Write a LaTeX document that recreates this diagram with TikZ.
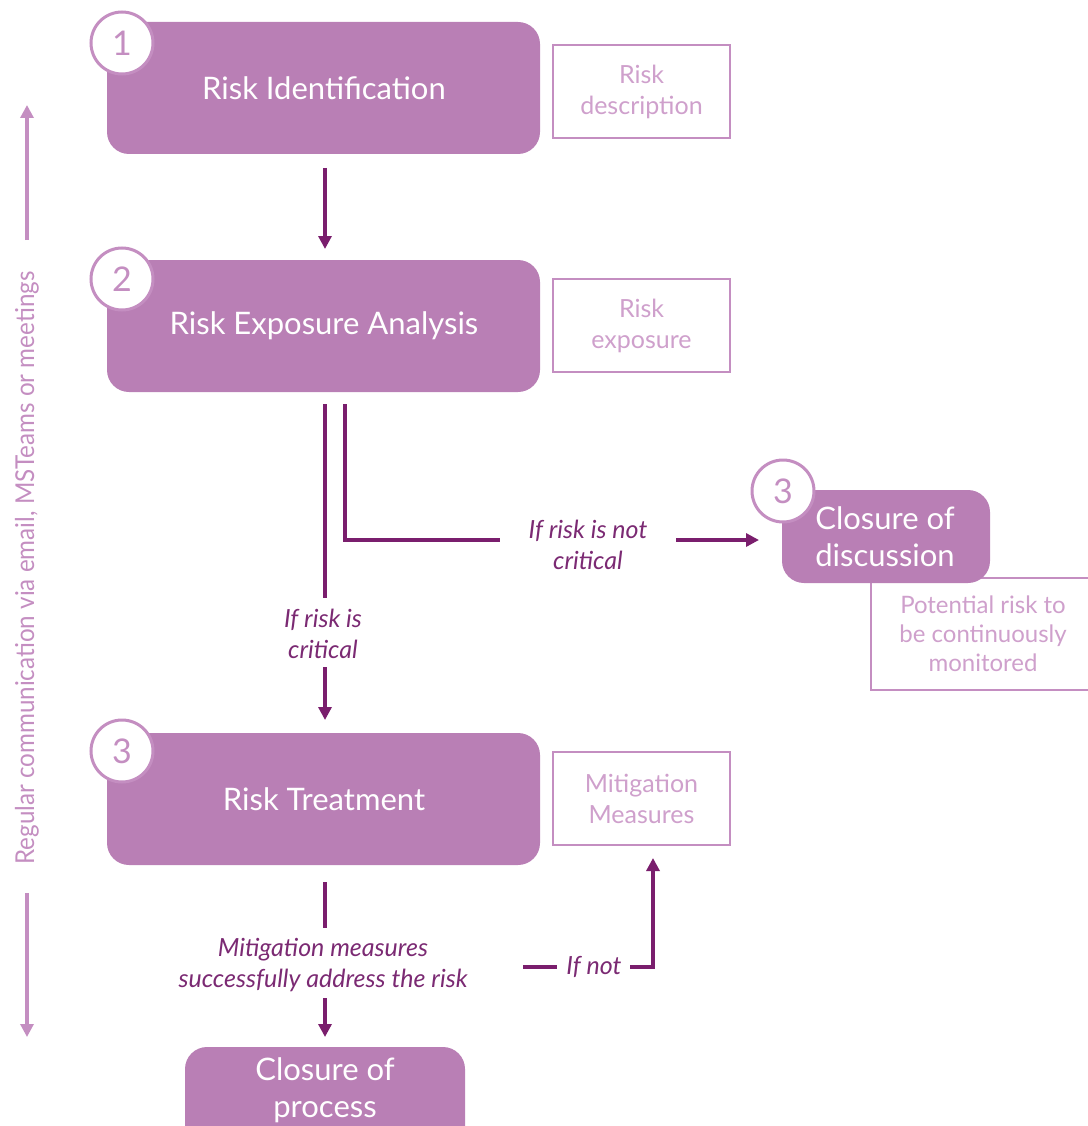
\documentclass[tikz,border=0pt]{standalone}
\usepackage{fontspec}
\setmainfont{Lato}
\usetikzlibrary{arrows.meta,positioning}
\definecolor{boxfill}{HTML}{B97FB5}
\definecolor{darkp}{HTML}{7A1E6D}
\definecolor{lightp}{HTML}{C48EC1}
\definecolor{lighttext}{HTML}{CFA0CC}
\definecolor{labeltext}{HTML}{7B2A73}
\tikzset{
  x=1pt,y=-1pt,
  mainbox/.style={fill=boxfill,draw=none,rounded corners=22pt},
  maintext/.style={text=white,font=\fontsize{31}{37}\selectfont,align=center,inner sep=0pt},
  numcirc/.style={circle,fill=white,draw=lightp,line width=3pt,minimum size=62pt,inner sep=0pt,text=lightp,font=\fontsize{34}{34}\selectfont},
  outbox/.style={draw=lightp,line width=2pt,fill=white,text=lighttext,font=\fontsize{25}{31}\selectfont,align=center,inner sep=0pt},
  flow/.style={draw=darkp,line width=3.2pt},
  flowarrow/.style={flow,-{Triangle[length=13pt,width=13pt]}},
  lbl/.style={text=labeltext,font=\fontsize{25}{31}\selectfont\itshape,align=center,inner sep=0pt},
  side/.style={draw=lightp,line width=3.2pt,-{Triangle[length=13pt,width=13pt]}}
}
\begin{document}
\begin{tikzpicture}
\useasboundingbox (0,0) rectangle (1087,1126);
% potential risk box (behind closure box)
\path[outbox] (871,578) rectangle (1100,690);
\node[text=lighttext,font=\fontsize{24}{29}\selectfont,align=center] (pot) at (983,634) {Potential risk to\\be continuously\\monitored};
% main boxes
\path[mainbox] (107,22) rectangle (540,154);
\node[maintext] (b1) at (324,88) {Risk Identification};
\path[mainbox] (107,260) rectangle (540,392);
\node[maintext] (b2) at (324,326) {Risk Exposure Analysis};
\path[mainbox] (107,733) rectangle (540,865);
\node[maintext] (b3) at (324,799) {Risk Treatment};
\path[mainbox] (782,490) rectangle (990,583);
\node[maintext] (cd) at (885,537) {Closure of\\discussion};
\path[mainbox] (185,1047) rectangle (465,1160);
\node[maintext] (cp) at (325,1090) {Closure of\\process};
% number circles
\node[numcirc] (n1) at (122,43) {1};
\node[numcirc] (n2) at (122,279) {2};
\node[numcirc] (n3) at (122,751) {3};
\node[numcirc] (n4) at (783,491) {3};
% output boxes
\node[outbox,minimum width=177pt,minimum height=93pt] (o1) at (641.5,91.5) {Risk\\description};
\node[outbox,minimum width=177pt,minimum height=93pt] (o2) at (641.5,325.5) {Risk\\exposure};
\node[outbox,minimum width=177pt,minimum height=93pt] (o3) at (641.5,798.5) {Mitigation\\Measures};
% labels
\node[lbl] (l1) at (323,634) {If risk is\\critical};
\node[lbl] (l2) at (588,545) {If risk is not\\critical};
\node[lbl] (l3) at (323,965) {Mitigation measures\\successfully address the risk};
\node[lbl] (l4) at (594,967) {If not};
% coordinates
\coordinate (a1s) at (325,168);
\coordinate (a1e) at (325,249);
\coordinate (c1s) at (325,404);
\coordinate (c1m) at (325,598);
\coordinate (c1n) at (325,667);
\coordinate (c1e) at (325,720);
\coordinate (c2s) at (345,404);
\coordinate (c2c) at (345,540);
\coordinate (c2m) at (500,540);
\coordinate (c2n) at (676,540);
\coordinate (c2e) at (759,540);
\coordinate (c3s) at (325,882);
\coordinate (c3m) at (325,928);
\coordinate (c3n) at (325,998);
\coordinate (c3e) at (325,1037);
\coordinate (c4s) at (523,967);
\coordinate (c4m) at (557,967);
\coordinate (c4n) at (630,967);
\coordinate (c4c) at (653,967);
\coordinate (c4e) at (653,858);
% connectors
\draw[flowarrow] (a1s) -- (a1e);
\draw[flow] (c1s) -- (c1m);
\draw[flowarrow] (c1n) -- (c1e);
\draw[flow] (c2s) -- (c2c) -- (c2m);
\draw[flowarrow] (c2n) -- (c2e);
\draw[flow] (c3s) -- (c3m);
\draw[flowarrow] (c3n) -- (c3e);
\draw[flow] (c4s) -- (c4m);
\draw[flowarrow] (c4n) -- (c4c) -- (c4e);
% side communication
\coordinate (s1s) at (27,240);
\coordinate (s1e) at (27,105);
\coordinate (s2s) at (27,893);
\coordinate (s2e) at (27,1037);
\draw[side] (s1s) -- (s1e);
\draw[side] (s2s) -- (s2e);
\node[rotate=90,text=lightp,inner sep=0pt] (side) at (27,568) {\scalebox{0.93}[1]{\fontsize{26}{26}\selectfont Regular communication via email, MSTeams or meetings}};
\end{tikzpicture}
\end{document}
